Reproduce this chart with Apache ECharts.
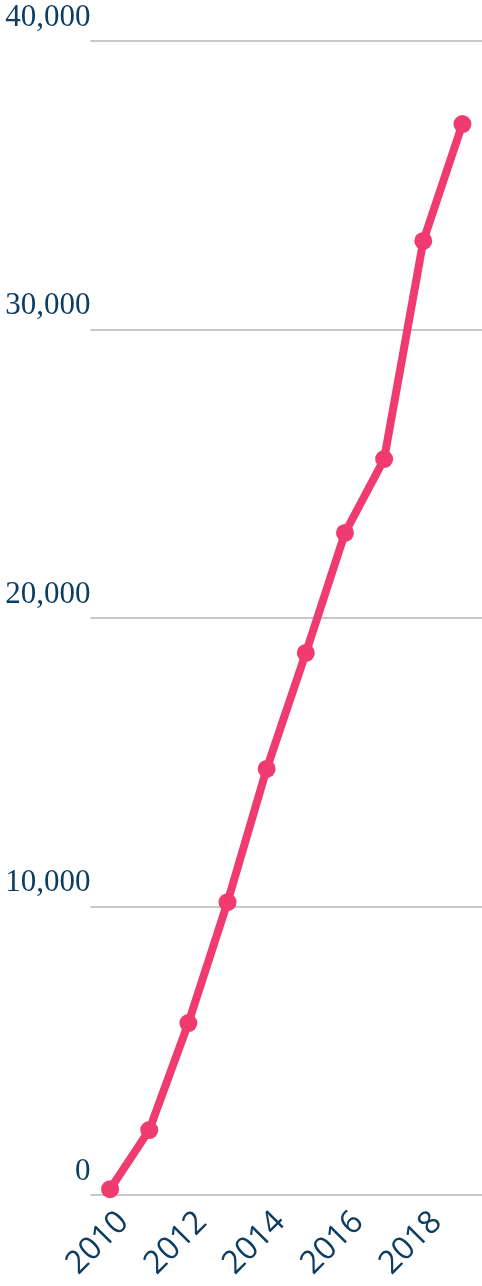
<!DOCTYPE html>
<html><head><meta charset="utf-8">
<script src="https://cdn.jsdelivr.net/npm/echarts@6/dist/echarts.min.js"></script>
<style>html,body{margin:0;padding:0;background:#fff}#c{width:482px;height:1286px}</style>
</head><body><div id="c"></div>
<script>
const years = ['2010','2011','2012','2013','2014','2015','2016','2017','2018','2019'];
const values = [200, 2250, 5960, 10150, 14770, 18790, 22950, 25510, 33070, 37120];
const yTicks = [0, 10000, 20000, 30000, 40000];

const chart = echarts.init(document.getElementById('c'));
chart.setOption({
  animation: false,
  grid: {left: 90.5, width: 394, top: 41, bottom: 91},
  xAxis: {
    type: 'category', data: years, boundaryGap: true,
    axisLine: {show: false}, axisTick: {show: false},
    axisLabel: {interval: 1, rotate: 45, color: '#0d3d61', fontFamily: 'Open Sans', fontSize: 32, margin: 13, verticalAlign: 'top', lineHeight: 32, padding: [0, -3, 0, 0]}
  },
  yAxis: {
    type: 'value', min: yTicks[0], max: yTicks[yTicks.length-1], interval: 10000,
    axisLine: {show: false}, axisTick: {show: false},
    splitLine: {lineStyle: {color: '#c8c8c8', width: 2}},
    axisLabel: {
      color: '#0d3d61', fontFamily: 'Liberation Serif', fontSize: 31, margin: 0,
      align: 'right', verticalAlign: 'bottom', lineHeight: 31, padding: [0, 0, 8, 0],
      formatter: v => v.toLocaleString('en-US')
    }
  },
  series: [{
    type: 'line', data: values, symbol: 'circle', symbolSize: 18,
    lineStyle: {color: '#ef3b6f', width: 8}, itemStyle: {color: '#ef3b6f'}
  }]
});
</script></body></html>
